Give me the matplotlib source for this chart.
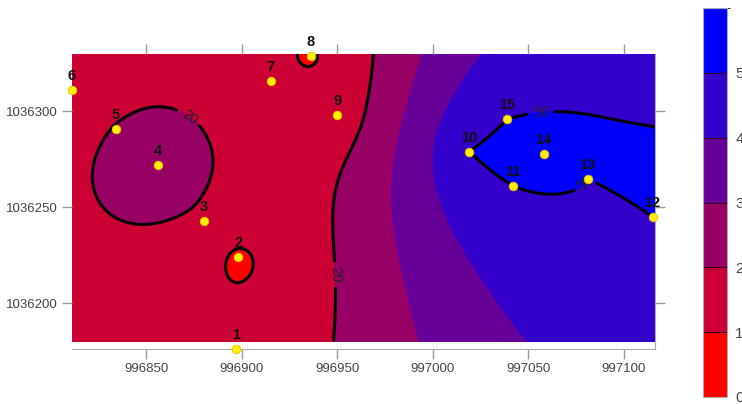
import numpy as np
import matplotlib
matplotlib.use("Agg")
import matplotlib.pyplot as plt
from matplotlib.colors import ListedColormap, BoundaryNorm
import matplotlib as mpl

plt.rcParams['font.family'] = ['Liberation Sans', 'DejaVu Sans']

# sample wells (easting, northing) and measured value
well_ids = ['1', '2', '3', '4', '5', '6', '7', '8', '9', '10', '11', '12', '13', '14', '15']
well_x = [996897, 996898, 996880, 996856, 996834, 996811, 996915, 996936,
          996950, 997019, 997042, 997115, 997081, 997058, 997039]
well_y = [1036176, 1036224, 1036243, 1036272, 1036291, 1036311, 1036316, 1036329,
          1036298, 1036279, 1036261, 1036245, 1036265, 1036278, 1036296]
well_val = [12, 8.5, 18, 27, 20.5, 13, 13.5, 9, 14, 50, 50, 50, 50, 51.5, 50]

levels = [0, 10, 20, 30, 40, 50, 60]
colors = ['#ff0000', '#cc0033', '#990066', '#660099', '#3300cc', '#0000ff']

# grid limits
grid_x = (996811, 997116)
grid_y = (1036180, 1036330)


def krige_linear(px, py, pv, gx, gy):
    # ordinary kriging with a linear variogram
    px = (np.asarray(px, float) - 996960) / 100
    py = (np.asarray(py, float) - 1036250) / 100
    gx = (gx - 996960) / 100
    gy = (gy - 1036250) / 100
    pv = np.asarray(pv, float)
    n = len(pv)
    d = np.hypot(px[:, None] - px[None, :], py[:, None] - py[None, :])
    A = np.ones((n + 1, n + 1))
    A[:n, :n] = d
    A[n, n] = 0
    coef = np.linalg.solve(A, np.append(pv, 0.0))
    dg = np.hypot(gx[..., None] - px, gy[..., None] - py)
    return dg @ coef[:n] + coef[n]


xs = np.linspace(grid_x[0], grid_x[1], 400)
ys = np.linspace(grid_y[0], grid_y[1], 200)
GX, GY = np.meshgrid(xs, ys)
Z = krige_linear(well_x, well_y, well_val, GX, GY)

fig = plt.figure(figsize=(7.42, 4.04), dpi=100)
ax = fig.add_axes([72 / 742, 1 - 349 / 404, 582.5 / 742, 295 / 404])

cmap = ListedColormap(colors)
norm = BoundaryNorm(levels, cmap.N)
ax.contourf(GX, GY, Z, levels=levels, cmap=cmap, norm=norm, extend='both')
ax.contour(GX, GY, Z, levels=[10], colors='black', linewidths=2.2)
cs = ax.contour(GX, GY, Z, levels=[20, 50], colors='black', linewidths=2.2)
# label spots near where the original map puts them
label_spots = [(996875, 1036300), (996950, 1036215), (997058, 1036290), (997080, 1036262)]
ax.clabel(cs, fmt='%d', fontsize=10, inline=True, colors='#222222', manual=label_spots)

ax.scatter(well_x, well_y, s=38, c='#ffee00', edgecolors='#f0c000', linewidths=0.6,
           zorder=5, clip_on=False)
for t, x, y in zip(well_ids, well_x, well_y):
    ax.annotate(t, (x, y), xytext=(0, 5), textcoords='offset points', ha='center',
                va='bottom', fontsize=10.5, fontweight='bold', color='#111111',
                zorder=6, annotation_clip=False)

ax.set_xlim(996811, 997116)
ax.set_ylim(1036176, 1036330)
ax.set_xticks([996850, 996900, 996950, 997000, 997050, 997100])
ax.set_yticks([1036200, 1036250, 1036300])
ax.ticklabel_format(useOffset=False, style='plain')
ax.tick_params(direction='out', length=7, width=1, color='#999999', labelcolor='#444444',
               labelsize=9.5, top=True, right=True, pad=3)
for s in ax.spines.values():
    s.set_color('#aaaaaa')
ax.spines['top'].set_visible(False)
ax.spines['left'].set_visible(False)

cax = fig.add_axes([703 / 742, 1 - 397 / 404, 24 / 742, 389 / 404])
cb = mpl.colorbar.ColorbarBase(cax, cmap=cmap, norm=norm, boundaries=levels,
                               ticks=[0, 10, 20, 30, 40, 50], drawedges=True)
cb.dividers.set_color('#330022')
cb.dividers.set_linewidth(0.8)
cb.outline.set_edgecolor('#aaaaaa')
cax.tick_params(length=0, labelsize=11, labelcolor='#444444', pad=6)

fig.savefig('out.png', dpi=100)
